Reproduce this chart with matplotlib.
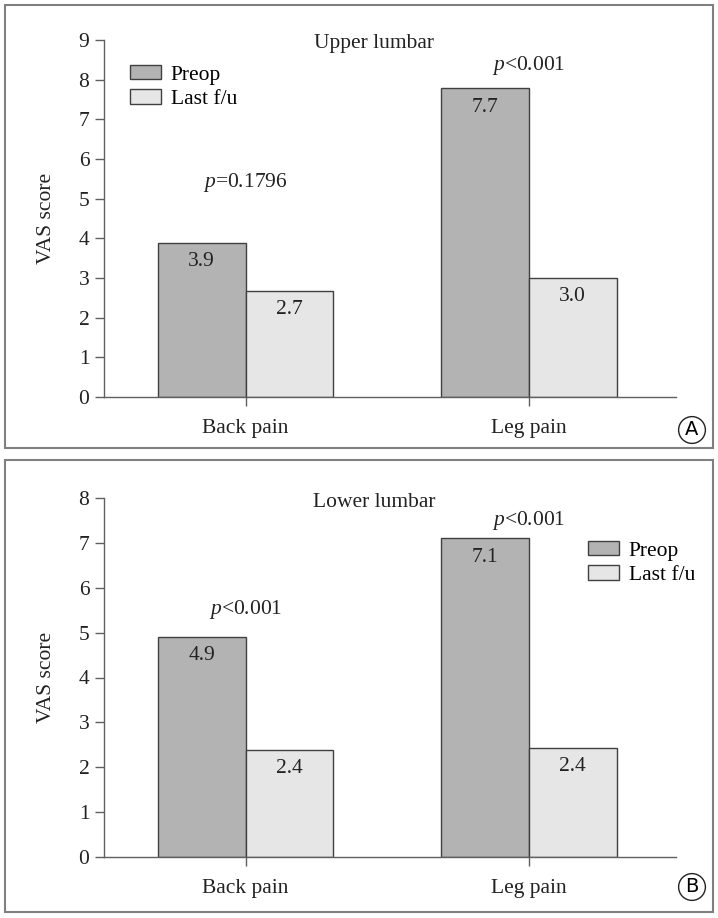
import numpy as np
from matplotlib import pyplot as plt
from matplotlib.patches import Rectangle

plt.rcParams['font.family'] = 'Liberation Serif'
plt.rcParams['mathtext.fontset'] = 'custom'
plt.rcParams['mathtext.it'] = 'Liberation Serif:italic'
plt.rcParams['mathtext.rm'] = 'Liberation Serif'

# data
categories = ['Back pain', 'Leg pain']
series = ['Preop', 'Last f/u']

upper_preop = [3.88, 7.78]
upper_last = [2.67, 3.0]
upper_labels_preop = ['3.9', '7.7']
upper_labels_last = ['2.7', '3.0']
upper_p = ['$p$=0.1796', '$p$<0.001']

lower_preop = [4.9, 7.1]
lower_last = [2.38, 2.43]
lower_labels_preop = ['4.9', '7.1']
lower_labels_last = ['2.4', '2.4']
lower_p = ['$p$<0.001', '$p$<0.001']

c_preop = '#b3b3b3'
c_last = '#e6e6e6'
edge = '#404040'
axis_col = '#606060'
fs = 15.5

fig = plt.figure(figsize=(7.18, 9.18), dpi=100)

# panel frames
for y0, y1 in [(5, 448), (460, 912)]:
    fig.patches.append(Rectangle((5 / 718, 1 - y1 / 918), 708 / 718, (y1 - y0) / 918,
                                 transform=fig.transFigure, fill=False,
                                 ec='#808080', lw=1.5))


def draw_panel(ax, preop, last, lab_pre, lab_last, pvals, p_y, title, title_y, ymax):
    x = np.arange(len(categories))
    w = 0.31
    b1 = ax.bar(x - w / 2, preop, w, color=c_preop, ec=edge, lw=1, label=series[0])
    b2 = ax.bar(x + w / 2, last, w, color=c_last, ec=edge, lw=1, label=series[1])
    for bars, labs in [(b1, lab_pre), (b2, lab_last)]:
        for r, t in zip(bars, labs):
            ax.annotate(t, (r.get_x() + r.get_width() / 2, r.get_height()),
                        xytext=(0, -13.5), textcoords='offset points',
                        ha='center', va='center', fontsize=fs, color='#222222')
    for xi, pt, py in zip(x, pvals, p_y):
        ax.text(xi, py, pt, ha='center', va='center', fontsize=fs, color='#222222')
    ax.text(0.454, title_y, title, ha='center', va='center', fontsize=fs, color='#222222')
    ax.set_xlim(-0.5, 1.52)
    ax.set_ylim(0, ymax)
    ax.set_yticks(range(ymax + 1))
    ax.set_xticks(x)
    ax.set_xticklabels(categories)
    for s in ['top', 'right']:
        ax.spines[s].set_visible(False)
    for s in ['left', 'bottom']:
        ax.spines[s].set_color(axis_col)
        ax.spines[s].set_linewidth(1)
    ax.tick_params(axis='both', colors=axis_col, labelcolor='#222222',
                   labelsize=fs, length=6.5, width=1)
    ax.tick_params(axis='x', pad=9)
    ax.tick_params(axis='y', pad=4)
    ax.set_ylabel('VAS score', fontsize=fs, color='#222222', labelpad=16)


ax_a = fig.add_axes([104 / 718, 1 - 397 / 918, 572 / 718, 357 / 918])
draw_panel(ax_a, upper_preop, upper_last, upper_labels_preop, upper_labels_last,
           upper_p, [5.42, 8.36], 'Upper lumbar', 8.9, 9)
ax_a.legend(loc='upper left', bbox_to_anchor=(130 / 718, 1 - 65 / 918),
            bbox_transform=fig.transFigure, frameon=False, fontsize=fs,
            handlelength=1.45, handleheight=0.65, labelspacing=0.22,
            borderpad=0, borderaxespad=0, handletextpad=0.45)

ax_b = fig.add_axes([104 / 718, 1 - 857 / 918, 572 / 718, 359 / 918])
draw_panel(ax_b, lower_preop, lower_last, lower_labels_preop, lower_labels_last,
           lower_p, [5.51, 7.5], 'Lower lumbar', 7.9, 8)
ax_b.legend(loc='upper left', bbox_to_anchor=(588 / 718, 1 - 541 / 918),
            bbox_transform=fig.transFigure, frameon=False, fontsize=fs,
            handlelength=1.45, handleheight=0.65, labelspacing=0.22,
            borderpad=0, borderaxespad=0, handletextpad=0.45)

# panel letters
for letter, yc in [('A', 430), ('B', 887)]:
    fig.text(692 / 718, 1 - yc / 918, letter, ha='center', va='center',
             fontsize=14, family='DejaVu Sans',
             bbox=dict(boxstyle='circle,pad=0.2', fc='white', ec='#222222', lw=1))

fig.savefig('out.png', dpi=100)
